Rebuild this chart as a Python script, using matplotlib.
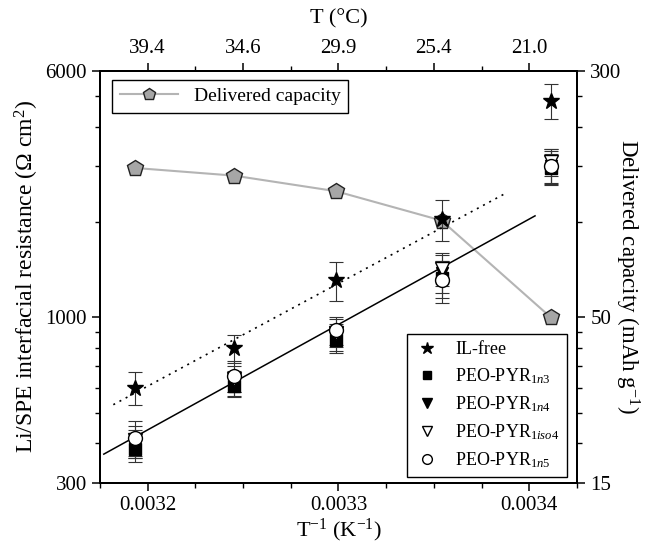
import numpy as np
import matplotlib
matplotlib.use('Agg')
import matplotlib.pyplot as plt
import matplotlib.ticker as mticker
from matplotlib.lines import Line2D

plt.rcParams['font.family'] = ['Liberation Serif', 'DejaVu Serif']
plt.rcParams['mathtext.fontset'] = 'custom'
plt.rcParams['mathtext.rm'] = 'Liberation Serif'
plt.rcParams['mathtext.it'] = 'Liberation Serif:italic'

# temperatures of the measurements (deg C) -> 1/T in 1/K
temp_c = np.array([40, 35, 30, 25, 20])
inv_t = 1.0 / (temp_c + 273.15)

# interfacial resistance (Ohm cm2) and errors
r_ilfree = [600, 800, 1310, 2040, 4830]
e_ilfree = [70, 80, 185, 300, 600]
r_n3 = [385, 605, 850, 1330, 2950]
e_n3 = [35, 45, 80, 180, 330]
r_n4 = [400, 620, 870, 1380, 3000]
e_n4 = [40, 55, 85, 190, 340]
r_iso4 = [410, 640, 895, 1425, 3090]
e_iso4 = [45, 60, 90, 170, 300]
r_n5 = [415, 655, 910, 1310, 3010]
e_n5 = [55, 75, 95, 200, 380]

# delivered capacity (mAh/g)
cap = [148, 140, 125, 101, 50]

# Arrhenius fit lines
fit_x = [0.003177, 0.003403]
fit_r = [370, 2090]
fit_il_x = [0.003182, 0.003388]
fit_il_r = [530, 2470]

top_ticks = [0.0032, 0.00325, 0.0033, 0.00335, 0.0034]
top_labels = ['39.4', '34.6', '29.9', '25.4', '21.0']

fig = plt.figure(figsize=(6.5, 5.47), dpi=100)
fig.subplots_adjust(left=0.1538, right=0.8877, top=0.8707, bottom=0.117)
ax = fig.add_subplot(111)
ax2 = ax.twinx()
axt = ax.twiny()
ax.set_zorder(ax2.get_zorder() + 2)
ax.patch.set_visible(False)

# capacity on the right axis
ax2.plot(inv_t, cap, color='#b4b4b4', lw=1.5, marker='p', ms=12,
         mfc='#a6a6a6', mec='#222222', mew=1.0)

# fit lines
ax.plot(fit_x, fit_r, color='black', lw=1.1)
ax.plot(fit_il_x, fit_il_r, color='black', lw=1.2, ls=(0, (1.2, 3)))

ekw = dict(fmt='none', ecolor='#333333', elinewidth=0.8, capsize=5, capthick=0.8)
for r, e in [(r_n3, e_n3), (r_n4, e_n4), (r_iso4, e_iso4), (r_n5, e_n5), (r_ilfree, e_ilfree)]:
    ax.errorbar(inv_t, r, yerr=e, **ekw)

ax.plot(inv_t, r_n3, ls='none', marker='s', ms=8, mfc='black', mec='black')
ax.plot(inv_t, r_n4, ls='none', marker='v', ms=9, mfc='black', mec='black')
ax.plot(inv_t, r_iso4, ls='none', marker='v', ms=10, mfc='white', mec='black', mew=1.0)
ax.plot(inv_t, r_n5, ls='none', marker='o', ms=10, mfc='white', mec='black', mew=1.0)
ax.plot(inv_t, r_ilfree, ls='none', marker='*', ms=12, mfc='black', mec='black')

ax.set_yscale('log')
ax.set_ylim(300, 6000)
ax.yaxis.set_major_locator(mticker.FixedLocator([300, 1000, 6000]))
ax.yaxis.set_major_formatter(mticker.FixedFormatter(['300', '1000', '6000']))
ax.yaxis.set_minor_locator(mticker.FixedLocator([400, 500, 600, 700, 800, 900,
                                                 2000, 3000, 4000, 5000]))
ax.yaxis.set_minor_formatter(mticker.NullFormatter())

ax2.set_yscale('log')
ax2.set_ylim(15, 300)
ax2.yaxis.set_major_locator(mticker.FixedLocator([15, 50, 300]))
ax2.yaxis.set_major_formatter(mticker.FixedFormatter(['15', '50', '300']))
ax2.yaxis.set_minor_locator(mticker.FixedLocator([20, 25, 30, 35, 40, 45,
                                                  100, 150, 200, 250]))
ax2.yaxis.set_minor_formatter(mticker.NullFormatter())

ax.set_xlim(0.003175, 0.003425)
ax.xaxis.set_major_locator(mticker.FixedLocator([0.0032, 0.0033, 0.0034]))
ax.xaxis.set_major_formatter(mticker.FixedFormatter(['0.0032', '0.0033', '0.0034']))
ax.xaxis.set_minor_locator(mticker.MultipleLocator(0.000025))

axt.set_xlim(ax.get_xlim())
axt.xaxis.set_major_locator(mticker.FixedLocator(top_ticks))
axt.xaxis.set_major_formatter(mticker.FixedFormatter(top_labels))
axt.xaxis.set_minor_locator(mticker.FixedLocator([0.003225, 0.003275, 0.003325, 0.003375]))

for a in (ax, ax2, axt):
    a.tick_params(which='major', direction='out', length=6, width=1.1, labelsize=15)
    a.tick_params(which='minor', direction='out', length=3.5, width=1.0)
    for s in a.spines.values():
        s.set_linewidth(1.3)

ax.set_xlabel('T$^{-1}$ (K$^{-1}$)', fontsize=16, labelpad=1)
axt.set_xlabel('T (°C)', fontsize=16, labelpad=11)
ax.set_ylabel('Li/SPE interfacial resistance (Ω cm$^2$)', fontsize=17, labelpad=3)
ax2.set_ylabel('Delivered capacity (mAh g$^{-1}$)', fontsize=16.5, rotation=270, labelpad=14)

# legends
h_cap = [Line2D([], [], color='#b4b4b4', lw=1.5, marker='p', ms=9,
                mfc='#a6a6a6', mec='#222222')]
leg1 = ax.legend(h_cap, ['Delivered capacity'], loc='upper left',
                 bbox_to_anchor=(0.025, 0.978), borderaxespad=0, fontsize=14,
                 fancybox=False, edgecolor='black', framealpha=1, handlelength=3)
leg1.get_frame().set_linewidth(1.0)
ax.add_artist(leg1)

h_ser = [Line2D([], [], ls='none', marker='*', ms=9, color='black'),
         Line2D([], [], ls='none', marker='s', ms=6, color='black'),
         Line2D([], [], ls='none', marker='v', ms=7, color='black'),
         Line2D([], [], ls='none', marker='v', ms=7, mfc='white', mec='black'),
         Line2D([], [], ls='none', marker='o', ms=7, mfc='white', mec='black')]
l_ser = ['IL-free', r'PEO-PYR$_{1\mathit{n}3}$', r'PEO-PYR$_{1\mathit{n}4}$',
         r'PEO-PYR$_{1\mathit{iso}4}$', r'PEO-PYR$_{1\mathit{n}5}$']
leg2 = ax.legend(h_ser, l_ser, loc='lower right', bbox_to_anchor=(0.979, 0.015),
                 borderaxespad=0, fontsize=13, fancybox=False, edgecolor='black',
                 framealpha=1, handlelength=1.5, labelspacing=0.45)
leg2.get_frame().set_linewidth(1.0)

fig.savefig('out.png', dpi=100)
